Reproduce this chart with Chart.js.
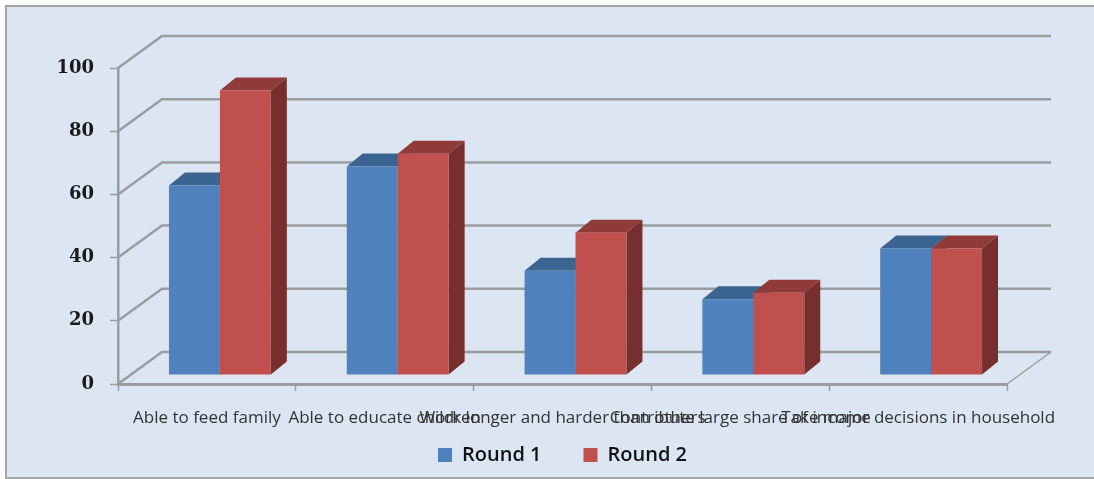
<!DOCTYPE html>
<html>
<head>
<meta charset="utf-8">
<script src="https://cdn.jsdelivr.net/npm/chart.js@4"></script>
<style>
    html, body { margin: 0; padding: 0; background: #fff; overflow: hidden; }
    #panel {
        position: absolute; left: 5px; top: 5px; width: 1089px; height: 470px;
        background: #dce6f2; border: 2px solid #a6a6a6; border-right: none;
    }
    #chart { position: absolute; left: 0; top: 0; }
</style>
</head>
<body>
<div id="panel"></div>
<canvas id="chart" width="1094" height="479"></canvas>
<script>
const categories = [
    'Able to feed family',
    'Able to educate children',
    'Work longer and harder than others',
    'Contribute large share of income',
    'Take major decisions in household'
];
const round1 = [60, 66, 33, 24, 40];
const round2 = [90, 70, 45, 26, 40];
const yTicks = [0, 20, 40, 60, 80, 100];

const gridColor = '#9a9c9e';

// back wall of the box, pushed up and to the right of the axes
const wallDx = 44;
const wallDy = -32;
// bars stand partway into the floor, and have their own depth
const barShiftX = 13;
const barShiftY = -9;
const depthX = 16;
const depthY = -13;
// the legend's row padding doubles as the gap between entries, so its box is moved up by hand
const legendTop = 403;

const box3d = {
    id: 'box3d',
    afterLayout(chart) {
        chart.legend.top = legendTop;
    },
    beforeDatasetsDraw(chart) {
        const ctx = chart.ctx;
        const area = chart.chartArea;
        const y = chart.scales.y;

        ctx.save();
        ctx.strokeStyle = gridColor;
        ctx.lineWidth = 2.5;
        yTicks.forEach(v => {
            const py = y.getPixelForValue(v);
            ctx.beginPath();
            ctx.moveTo(area.left, py);
            ctx.lineTo(area.left + wallDx, py + wallDy);
            ctx.lineTo(area.right + wallDx, py + wallDy);
            ctx.stroke();
        });
        // floor edge on the right
        ctx.lineWidth = 1.5;
        ctx.beginPath();
        ctx.moveTo(area.right, area.bottom);
        ctx.lineTo(area.right + wallDx, area.bottom + wallDy);
        ctx.stroke();
        ctx.restore();

        // stays translated until afterDatasetsDraw so the bars get the shift too
        ctx.save();
        ctx.translate(barShiftX, barShiftY);
        chart.data.datasets.forEach((ds, i) => {
            chart.getDatasetMeta(i).data.forEach(bar => {
                const left = bar.x - bar.width / 2;
                const right = bar.x + bar.width / 2;
                ctx.fillStyle = ds.topColor;
                ctx.beginPath();
                ctx.moveTo(left, bar.y);
                ctx.lineTo(left + depthX, bar.y + depthY);
                ctx.lineTo(right + depthX, bar.y + depthY);
                ctx.lineTo(right, bar.y);
                ctx.closePath();
                ctx.fill();
                ctx.fillStyle = ds.sideColor;
                ctx.beginPath();
                ctx.moveTo(right, bar.y);
                ctx.lineTo(right + depthX, bar.y + depthY);
                ctx.lineTo(right + depthX, bar.base + depthY);
                ctx.lineTo(right, bar.base);
                ctx.closePath();
                ctx.fill();
            });
        });
    },
    afterDatasetsDraw(chart) {
        chart.ctx.restore();
    }
};

new Chart(document.getElementById('chart'), {
    type: 'bar',
    data: {
        labels: categories,
        datasets: [
            { label: 'Round 1', data: round1, backgroundColor: '#4f81bd', topColor: '#3b6491', sideColor: '#3b6491',
              categoryPercentage: 0.573, barPercentage: 1, clip: false },
            { label: 'Round 2', data: round2, backgroundColor: '#c0504d', topColor: '#8f3b39', sideColor: '#772f2d',
              categoryPercentage: 0.573, barPercentage: 1, clip: false }
        ]
    },
    options: {
        responsive: false,
        animation: false,
        layout: { padding: { left: 0, top: 68, right: 87, bottom: -23 } },
        scales: {
            x: {
                afterFit(scale) { scale.height = 46; },
                border: { color: gridColor, width: 3 },
                grid: { drawOnChartArea: false, color: gridColor, tickLength: 7, tickWidth: 1.5 },
                ticks: {
                    autoSkip: false, maxRotation: 0, minRotation: 0, padding: 17,
                    color: '#333', font: { family: 'Open Sans', size: 17 }
                }
            },
            y: {
                min: 0,
                max: 100,
                afterFit(scale) { scale.width = 118; },
                border: { color: gridColor, width: 2.5 },
                grid: { drawOnChartArea: false, color: gridColor, tickLength: 8, tickWidth: 1.5 },
                ticks: {
                    stepSize: 20, padding: 16,
                    color: '#1a1a1a', font: { family: 'DejaVu Serif', size: 18, weight: 'bold' }
                }
            }
        },
        plugins: {
            tooltip: { enabled: false },
            legend: {
                position: 'bottom',
                fullSize: false,
                labels: {
                    boxWidth: 14, boxHeight: 14, padding: 42,
                    color: '#111', font: { family: 'Open Sans', size: 20, weight: '600' }
                }
            }
        }
    },
    plugins: [box3d]
});
</script>
</body>
</html>
